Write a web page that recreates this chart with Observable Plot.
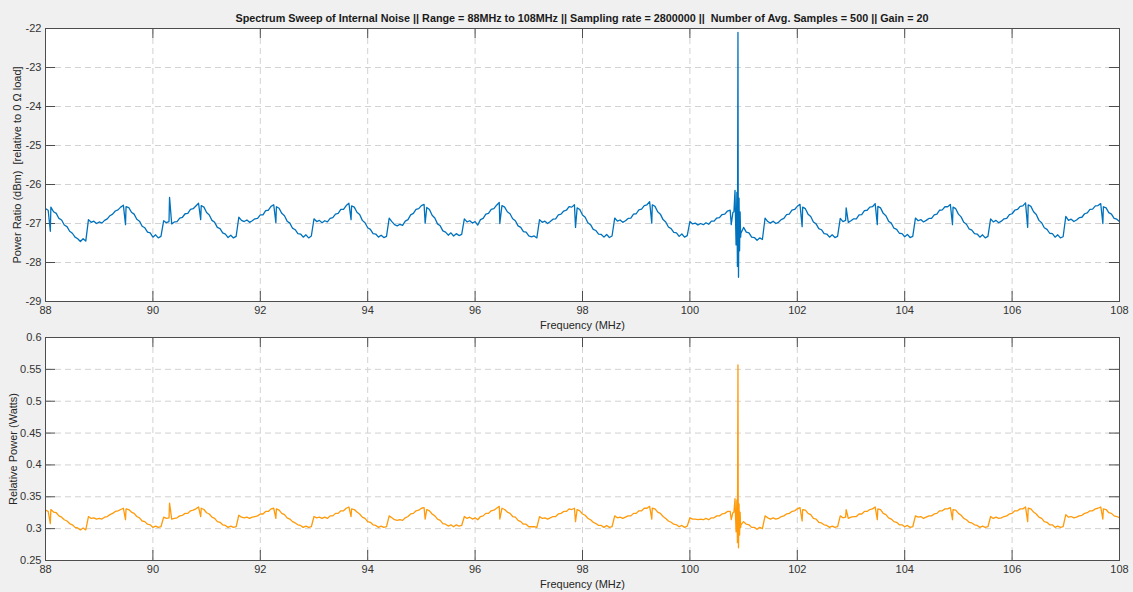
<!DOCTYPE html>
<html>
<head>
<meta charset="utf-8">
<script src="https://cdn.jsdelivr.net/npm/d3@7"></script>
<script src="https://cdn.jsdelivr.net/npm/@observablehq/plot@0.6"></script>
<style>
  html, body { margin: 0; padding: 0; background: #f0f0f0; }
  #figure { position: relative; width: 1133px; height: 592px; background: #f0f0f0; overflow: hidden;
            font-family: "Liberation Sans", Arial, Helvetica, sans-serif; }
  #title { position: absolute; left: 45px; width: 1074px; top: 12px; text-align: center;
           font-weight: bold; font-size: 10.8px; line-height: 13px; color: #1a1a1a; white-space: pre; }
  .panel { position: absolute; left: 0; }
  #top { top: 0; }
  #bottom { top: 330px; }
</style>
</head>
<body>
<div id="figure">
  <div id="title"></div>
  <div class="panel" id="top"></div>
  <div class="panel" id="bottom"></div>
</div>
<script>
// Sweep bins (MHz), 88 to 108 MHz
const freqMHz = [
  88, 88.05, 88.1, 88.15, 88.2, 88.25, 88.3, 88.35, 88.4, 88.45, 88.5, 88.55, 88.6, 88.65, 88.7, 88.75,
  88.8, 88.85, 88.9, 88.95, 89, 89.05, 89.1, 89.15, 89.2, 89.25, 89.3, 89.35, 89.4, 89.45, 89.5, 89.55, 89.6, 89.65, 89.7, 89.75, 89.8, 89.85, 89.9, 89.95, 90, 90.05, 90.1, 90.15,
  90.2, 90.25, 90.3, 90.35, 90.4, 90.45, 90.5, 90.55, 90.6, 90.65, 90.7, 90.75, 90.8, 90.85, 90.9, 90.95, 91, 91.05, 91.1, 91.15, 91.2, 91.25, 91.3, 91.35, 91.4, 91.45, 91.5, 91.55,
  91.6, 91.65, 91.7, 91.75, 91.8, 91.85, 91.9, 91.95, 92, 92.05, 92.1, 92.15, 92.2, 92.25, 92.3, 92.35, 92.4, 92.45, 92.5, 92.55, 92.6, 92.65, 92.7, 92.75, 92.8, 92.85, 92.9, 92.95,
  93, 93.05, 93.1, 93.15, 93.2, 93.25, 93.3, 93.35, 93.4, 93.45, 93.5, 93.55, 93.6, 93.65, 93.7, 93.75, 93.8, 93.85, 93.9, 93.95, 94, 94.05, 94.1, 94.15, 94.2, 94.25, 94.3, 94.35,
  94.4, 94.45, 94.5, 94.55, 94.6, 94.65, 94.7, 94.75, 94.8, 94.85, 94.9, 94.95, 95, 95.05, 95.1, 95.15, 95.2, 95.25, 95.3, 95.35, 95.4, 95.45, 95.5, 95.55, 95.6, 95.65, 95.7, 95.75,
  95.8, 95.85, 95.9, 95.95, 96, 96.05, 96.1, 96.15, 96.2, 96.25, 96.3, 96.35, 96.4, 96.45, 96.5, 96.55, 96.6, 96.65, 96.7, 96.75, 96.8, 96.85, 96.9, 96.95, 97, 97.05, 97.1, 97.15,
  97.2, 97.25, 97.3, 97.35, 97.4, 97.45, 97.5, 97.55, 97.6, 97.65, 97.7, 97.75, 97.8, 97.85, 97.9, 97.95, 98, 98.05, 98.1, 98.15, 98.2, 98.25, 98.3, 98.35, 98.4, 98.45, 98.5, 98.55,
  98.6, 98.65, 98.7, 98.75, 98.8, 98.85, 98.9, 98.95, 99, 99.05, 99.1, 99.15, 99.2, 99.25, 99.3, 99.35, 99.4, 99.45, 99.5, 99.55, 99.6, 99.65, 99.7, 99.75, 99.8, 99.85, 99.9, 99.95,
  100, 100.05, 100.1, 100.15, 100.2, 100.25, 100.3, 100.35, 100.4, 100.45, 100.5, 100.55, 100.6, 100.65, 100.7, 100.75, 100.8, 100.85, 100.9, 100.95, 101, 101.05, 101.1, 101.15, 101.2, 101.25, 101.3, 101.35,
  101.4, 101.45, 101.5, 101.55, 101.6, 101.65, 101.7, 101.75, 101.8, 101.85, 101.9, 101.95, 102, 102.05, 102.1, 102.15, 102.2, 102.25, 102.3, 102.35, 102.4, 102.45, 102.5, 102.55, 102.6, 102.65, 102.7, 102.75,
  102.8, 102.85, 102.9, 102.95, 103, 103.05, 103.1, 103.15, 103.2, 103.25, 103.3, 103.35, 103.4, 103.45, 103.5, 103.55, 103.6, 103.65, 103.7, 103.75, 103.8, 103.85, 103.9, 103.95, 104, 104.05, 104.1, 104.15,
  104.2, 104.25, 104.3, 104.35, 104.4, 104.45, 104.5, 104.55, 104.6, 104.65, 104.7, 104.75, 104.8, 104.85, 104.9, 104.95, 105, 105.05, 105.1, 105.15, 105.2, 105.25, 105.3, 105.35, 105.4, 105.45, 105.5, 105.55,
  105.6, 105.65, 105.7, 105.75, 105.8, 105.85, 105.9, 105.95, 106, 106.05, 106.1, 106.15, 106.2, 106.25, 106.3, 106.35, 106.4, 106.45, 106.5, 106.55, 106.6, 106.65, 106.7, 106.75, 106.8, 106.85, 106.9, 106.95,
  107, 107.05, 107.1, 107.15, 107.2, 107.25, 107.3, 107.35, 107.4, 107.45, 107.5, 107.55, 107.6, 107.65, 107.7, 107.75, 107.8, 107.85, 107.9, 107.95, 108
];

// Averaged power per bin, dBm
const powerDbm = [
  -26.62, -26.66, -26.58, -26.70, -26.74, -26.87, -26.91, -27.04, -27.08, -27.20, -27.25, -27.35, -27.39, -27.46, -27.39, -27.45,
  -26.90, -26.97, -26.94, -27.00, -26.96, -26.99, -26.92, -26.88, -26.80, -26.76, -26.68, -26.65, -26.58, -26.53, -26.57, -26.59, -26.71, -26.76, -26.89, -26.94, -27.07, -27.11, -27.22, -27.24, -27.35, -27.29, -27.37, -27.33,
  -26.93, -26.98, -26.95, -27.01, -26.96, -26.95, -26.86, -26.84, -26.75, -26.74, -26.64, -26.62, -26.55, -26.48, -26.54, -26.58, -26.72, -26.78, -26.92, -26.97, -27.10, -27.13, -27.24, -27.27, -27.36, -27.30, -27.37, -27.33,
  -26.84, -26.92, -26.95, -26.91, -26.97, -26.93, -26.88, -26.87, -26.78, -26.78, -26.67, -26.66, -26.56, -26.52, -26.57, -26.61, -26.74, -26.80, -26.94, -26.99, -27.12, -27.16, -27.26, -27.27, -27.35, -27.29, -27.37, -27.32,
  -26.88, -26.95, -26.92, -26.98, -26.93, -26.96, -26.87, -26.85, -26.76, -26.74, -26.64, -26.64, -26.54, -26.48, -26.55, -26.58, -26.71, -26.77, -26.92, -26.98, -27.11, -27.15, -27.26, -27.27, -27.35, -27.30, -27.36, -27.33,
  -26.86, -26.95, -27.03, -27.06, -27.02, -27.05, -26.94, -26.90, -26.78, -26.74, -26.64, -26.62, -26.54, -26.51, -26.59, -26.64, -26.79, -26.86, -27.01, -27.06, -27.19, -27.22, -27.30, -27.24, -27.32, -27.26, -27.31, -27.28,
  -26.88, -26.96, -26.93, -26.99, -26.95, -27.04, -26.90, -26.87, -26.76, -26.74, -26.64, -26.62, -26.53, -26.46, -26.54, -26.58, -26.70, -26.75, -26.88, -26.93, -27.06, -27.10, -27.21, -27.22, -27.32, -27.34, -27.32, -27.37,
  -26.90, -26.97, -26.94, -27.00, -26.95, -26.89, -26.88, -26.78, -26.76, -26.68, -26.66, -26.57, -26.58, -26.52, -26.60, -26.64, -26.78, -26.84, -26.98, -27.03, -27.15, -27.18, -27.27, -27.28, -27.35, -27.28, -27.36, -27.32,
  -26.86, -26.94, -26.91, -26.97, -26.93, -26.87, -26.86, -26.76, -26.75, -26.65, -26.63, -26.54, -26.52, -26.44, -26.52, -26.56, -26.70, -26.76, -26.90, -26.96, -27.09, -27.13, -27.23, -27.24, -27.33, -27.27, -27.35, -27.31,
  -26.95, -27.01, -26.99, -27.04, -27.00, -27.03, -26.98, -27.02, -26.94, -26.94, -26.86, -26.85, -26.77, -26.76, -26.68, -26.66, -26.72, -26.90, -26.60, -27.25, -27.10, -27.22, -27.24, -27.35, -27.36, -27.43, -27.37, -27.41,
  -26.86, -26.95, -26.99, -26.94, -27.00, -26.97, -26.90, -26.87, -26.77, -26.76, -26.66, -26.64, -26.56, -26.51, -26.58, -26.62, -26.76, -26.82, -26.96, -27.01, -27.13, -27.16, -27.26, -27.27, -27.35, -27.29, -27.36, -27.33,
  -26.87, -26.95, -26.92, -26.97, -26.93, -26.88, -26.88, -26.78, -26.77, -26.67, -26.66, -26.58, -26.57, -26.49, -26.56, -26.60, -26.74, -26.80, -26.94, -26.99, -27.12, -27.15, -27.25, -27.26, -27.34, -27.28, -27.36, -27.33,
  -26.86, -26.93, -26.90, -26.96, -26.92, -26.87, -26.87, -26.78, -26.76, -26.66, -26.65, -26.57, -26.57, -26.51, -26.58, -26.62, -26.76, -26.83, -26.97, -27.02, -27.14, -27.17, -27.26, -27.27, -27.35, -27.29, -27.37, -27.33,
  -26.88, -26.96, -26.92, -26.98, -26.94, -26.88, -26.87, -26.77, -26.75, -26.66, -26.64, -26.56, -26.55, -26.47, -26.52, -26.56, -26.70, -26.77, -26.92, -26.98, -27.11, -27.15, -27.25, -27.26, -27.35, -27.29, -27.37, -27.34,
  -26.82, -26.92, -26.89, -26.95, -26.91, -26.85, -26.84, -26.75, -26.73, -26.64, -26.63, -26.55, -26.54, -26.49, -26.57, -26.60, -26.72, -26.76, -26.87, -26.89, -26.95
];

// Averaged power per bin, relative watts
const powerWatts = [
  0.329, 0.327, 0.330, 0.326, 0.325, 0.320, 0.318, 0.314, 0.312, 0.308, 0.306, 0.302, 0.301, 0.298, 0.301, 0.298,
  0.319, 0.316, 0.317, 0.315, 0.316, 0.315, 0.318, 0.319, 0.322, 0.324, 0.327, 0.328, 0.330, 0.332, 0.331, 0.330, 0.326, 0.324, 0.319, 0.317, 0.312, 0.311, 0.307, 0.306, 0.302, 0.304, 0.302, 0.303,
  0.318, 0.316, 0.317, 0.315, 0.316, 0.317, 0.320, 0.321, 0.324, 0.324, 0.328, 0.329, 0.331, 0.334, 0.332, 0.330, 0.325, 0.323, 0.318, 0.316, 0.311, 0.310, 0.306, 0.305, 0.302, 0.304, 0.302, 0.303,
  0.321, 0.318, 0.317, 0.318, 0.316, 0.318, 0.319, 0.320, 0.323, 0.323, 0.327, 0.327, 0.331, 0.332, 0.331, 0.329, 0.324, 0.322, 0.317, 0.315, 0.311, 0.309, 0.306, 0.305, 0.302, 0.304, 0.302, 0.303,
  0.319, 0.317, 0.318, 0.316, 0.318, 0.316, 0.320, 0.320, 0.324, 0.324, 0.328, 0.328, 0.332, 0.334, 0.331, 0.330, 0.326, 0.323, 0.318, 0.316, 0.311, 0.310, 0.306, 0.305, 0.302, 0.304, 0.302, 0.303,
  0.320, 0.317, 0.314, 0.313, 0.314, 0.313, 0.317, 0.319, 0.323, 0.324, 0.328, 0.329, 0.332, 0.333, 0.330, 0.328, 0.323, 0.320, 0.315, 0.313, 0.308, 0.307, 0.304, 0.306, 0.303, 0.306, 0.304, 0.305,
  0.319, 0.316, 0.318, 0.315, 0.317, 0.314, 0.319, 0.320, 0.324, 0.324, 0.328, 0.329, 0.332, 0.335, 0.332, 0.330, 0.326, 0.324, 0.319, 0.318, 0.313, 0.311, 0.307, 0.307, 0.303, 0.303, 0.303, 0.302,
  0.319, 0.316, 0.317, 0.315, 0.317, 0.319, 0.319, 0.323, 0.324, 0.327, 0.327, 0.331, 0.330, 0.332, 0.330, 0.328, 0.323, 0.321, 0.316, 0.314, 0.310, 0.308, 0.305, 0.305, 0.302, 0.305, 0.302, 0.303,
  0.320, 0.317, 0.318, 0.316, 0.318, 0.320, 0.320, 0.324, 0.324, 0.328, 0.328, 0.332, 0.332, 0.335, 0.332, 0.331, 0.326, 0.324, 0.319, 0.316, 0.312, 0.310, 0.307, 0.306, 0.303, 0.305, 0.302, 0.304,
  0.317, 0.315, 0.315, 0.314, 0.315, 0.314, 0.316, 0.314, 0.317, 0.317, 0.320, 0.320, 0.323, 0.324, 0.327, 0.327, 0.325, 0.319, 0.330, 0.306, 0.311, 0.307, 0.306, 0.302, 0.302, 0.299, 0.302, 0.300,
  0.320, 0.317, 0.315, 0.317, 0.315, 0.316, 0.319, 0.320, 0.323, 0.324, 0.327, 0.328, 0.331, 0.333, 0.330, 0.329, 0.324, 0.322, 0.316, 0.315, 0.310, 0.309, 0.306, 0.305, 0.302, 0.304, 0.302, 0.303,
  0.320, 0.317, 0.318, 0.316, 0.318, 0.319, 0.319, 0.323, 0.323, 0.327, 0.327, 0.330, 0.331, 0.334, 0.331, 0.330, 0.324, 0.322, 0.317, 0.315, 0.311, 0.310, 0.306, 0.306, 0.303, 0.305, 0.302, 0.303,
  0.320, 0.318, 0.319, 0.316, 0.318, 0.320, 0.320, 0.323, 0.324, 0.328, 0.328, 0.331, 0.331, 0.333, 0.330, 0.329, 0.324, 0.321, 0.316, 0.314, 0.310, 0.309, 0.306, 0.305, 0.302, 0.304, 0.302, 0.303,
  0.319, 0.316, 0.318, 0.316, 0.317, 0.319, 0.320, 0.323, 0.324, 0.328, 0.328, 0.331, 0.331, 0.334, 0.332, 0.331, 0.326, 0.323, 0.318, 0.316, 0.311, 0.310, 0.306, 0.306, 0.302, 0.304, 0.302, 0.303,
  0.322, 0.318, 0.319, 0.317, 0.318, 0.320, 0.321, 0.324, 0.325, 0.328, 0.328, 0.331, 0.332, 0.334, 0.331, 0.330, 0.325, 0.324, 0.320, 0.319, 0.317
];

// Narrow spurs between bins (LO leakage at each step centre, and the 100.9 MHz carrier)
const spurMHz = [88.09, 89.49, 90.31, 90.89, 92.29, 93.69, 95.07, 96.46, 97.87, 99.29, 100.77,
  100.82, 100.84, 100.86, 100.875, 100.885, 100.895, 100.905, 100.915, 100.925, 100.935, 100.945,
  102.09, 102.91, 103.49, 104.89, 106.29, 107.69];
const spurDbm = [-27.2, -27.03, -26.33, -26.9, -26.98, -26.9, -26.99, -27.0, -27.1, -26.99, -27.03,
  -26.7, -26.15, -27.55, -26.2, -28.1, -22.1, -28.38, -26.35, -27.7, -26.7, -27.35,
  -27.08, -26.6, -27.03, -27.03, -27.1, -27.0];
const spurWatts = [0.308, 0.314, 0.340, 0.319, 0.316, 0.319, 0.315, 0.315, 0.311, 0.315, 0.314,
  0.326, 0.347, 0.295, 0.345, 0.278, 0.557, 0.270, 0.339, 0.290, 0.326, 0.302,
  0.312, 0.330, 0.314, 0.314, 0.311, 0.315];

const xTicks = [88, 90, 92, 94, 96, 98, 100, 102, 104, 106, 108];
const dbmTicks = [-29, -28, -27, -26, -25, -24, -23, -22];
const wattTicks = [0.25, 0.3, 0.35, 0.4, 0.45, 0.5, 0.55, 0.6];

const titleText = "Spectrum Sweep of Internal Noise || Range = 88MHz to 108MHz || Sampling rate = 2800000 ||  Number of Avg. Samples = 500 || Gain = 20";
const xLabel = "Frequency (MHz)";
const dbmLabel = "Power Ratio (dBm)  [relative to 0 \u03A9 load]";
const wattLabel = "Relative Power (Watts)";

// bins and spurs merged into one frequency-ordered trace
function trace(values, spurValues) {
  return freqMHz.map((f, i) => ({f, v: values[i]}))
    .concat(spurMHz.map((f, i) => ({f, v: spurValues[i]})))
    .sort((a, b) => a.f - b.f);
}

const W = 1133, ML = 45, MR = 14, TICK = 10;
const axisColor = "#4d4d4d";

function panel(o) {
  const frameH = o.height - o.marginTop - o.marginBottom;
  const frameW = W - ML - MR;
  const grid = {stroke: "#d2d2d2", strokeOpacity: 1, strokeDasharray: "6,4", strokeWidth: 1};
  return Plot.plot({
    width: W, height: o.height,
    marginLeft: ML, marginRight: MR, marginTop: o.marginTop, marginBottom: o.marginBottom,
    style: {background: "transparent", fontFamily: "'Liberation Sans', Arial, Helvetica, sans-serif",
            fontSize: "11px", color: "#333", overflow: "visible"},
    x: {domain: [88, 108], label: null},
    y: {domain: o.yDomain, label: null},
    marks: [
      Plot.frame({fill: "white", stroke: "none"}),
      Plot.gridX(xTicks, grid),
      Plot.gridY(o.yTicks, grid),
      Plot.tickX(xTicks, {x: d => d, stroke: axisColor, insetTop: frameH - TICK}),
      Plot.tickX(xTicks, {x: d => d, stroke: axisColor, insetBottom: frameH - TICK}),
      Plot.tickY(o.yTicks, {y: d => d, stroke: axisColor, insetRight: frameW - TICK}),
      Plot.tickY(o.yTicks, {y: d => d, stroke: axisColor, insetLeft: frameW - TICK}),
      Plot.line(o.series, {x: "f", y: "v", stroke: o.color, strokeWidth: 1.3, clip: true}),
      Plot.frame({stroke: axisColor}),
      Plot.axisX(xTicks, {tickSize: 0, tickPadding: 5, tickFormat: d => String(d), label: null}),
      Plot.axisY(o.yTicks, {tickSize: 0, tickPadding: 4, tickFormat: d => String(d), label: null}),
      Plot.text([xLabel], {text: d => d, frameAnchor: "bottom", lineAnchor: "middle", dy: o.xLabelDy, fill: "#262626"}),
      Plot.text([o.yLabel], {text: d => d, frameAnchor: "left", textAnchor: "middle", lineAnchor: "middle",
                             dx: -o.yLabelDx, rotate: -90, fill: "#262626"})
    ]
  });
}

document.getElementById("title").textContent = titleText;

document.getElementById("top").append(panel({
  series: trace(powerDbm, spurDbm), yDomain: [-29, -22], yTicks: dbmTicks, yLabel: dbmLabel,
  color: "#0072bd", height: 340, marginTop: 28, marginBottom: 39, xLabelDy: 24, yLabelDx: 28
}));

document.getElementById("bottom").append(panel({
  series: trace(powerWatts, spurWatts), yDomain: [0.25, 0.6], yTicks: wattTicks, yLabel: wattLabel,
  color: "#ff9a0a", height: 262, marginTop: 7, marginBottom: 32, xLabelDy: 24, yLabelDx: 32
}));
</script>
</body>
</html>
